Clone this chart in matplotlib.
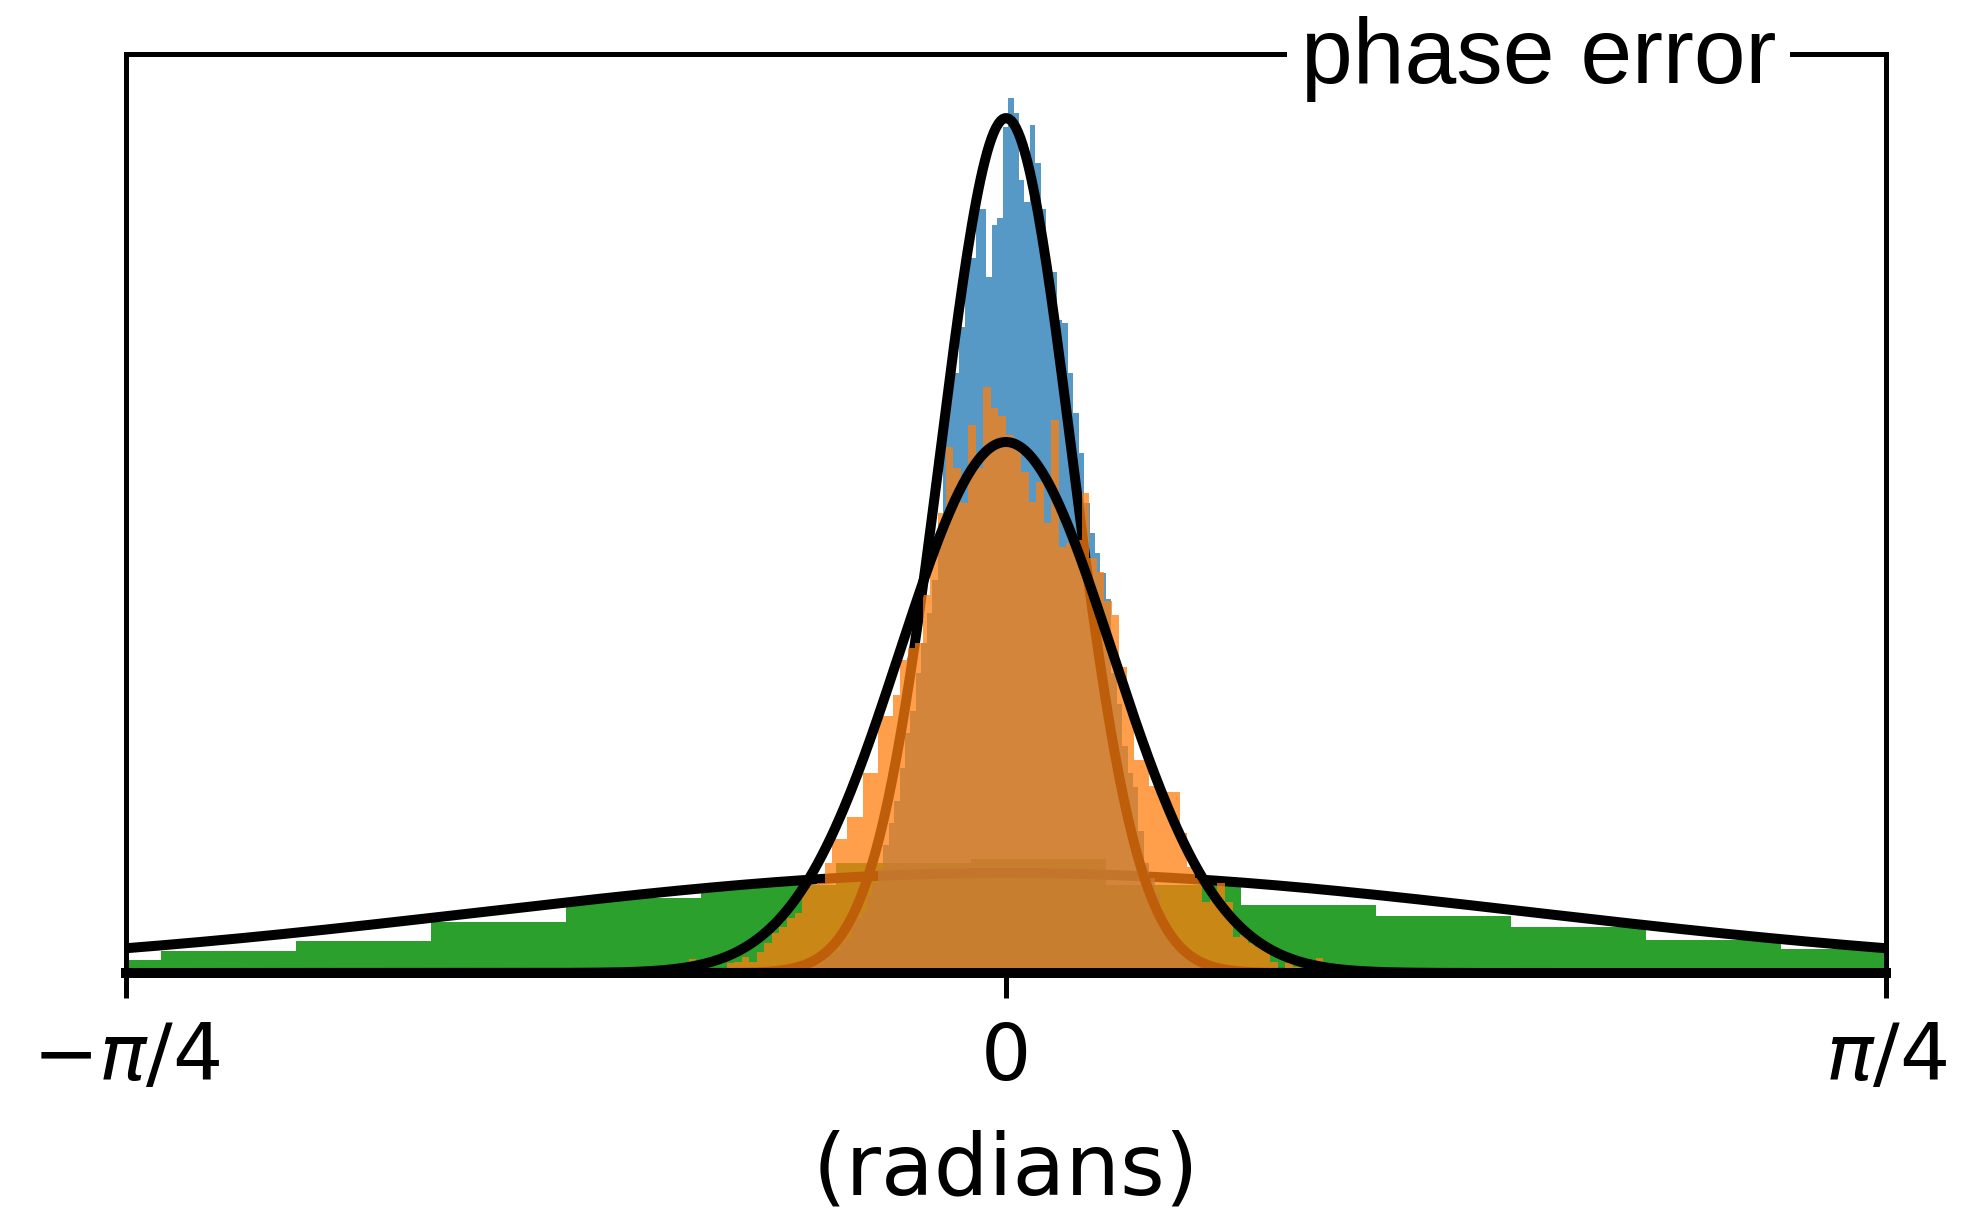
import numpy as np
import matplotlib
matplotlib.use("Agg")
import matplotlib.pyplot as plt

# ---------------- data ----------------
# histogram bin layouts (radians)
green_start, green_width = -0.8747, 0.12049
orange_start, orange_width = -0.29652, 0.006739
blue_start, blue_width = -0.196785, 0.004846

# bar heights (arbitrary units)
green_heights = [13, 22, 32, 51, 75, 88, 110, 114, 88, 68, 57, 46, 33, 24]

orange_heights = [
    0, 1, 14, 2, 2, 3, 5, 10, 11, 16, 11, 21, 30, 40, 46, 55, 60, 85, 88, 90,
    110, 134, 134, 156, 156, 200, 200, 257, 257, 278, 313, 325, 330, 378, 420,
    460, 526, 505, 470, 548, 505, 586, 565, 557,
    538, 526, 501, 471, 491, 450, 553, 426, 430, 433, 480, 415, 401, 372, 358,
    306, 260, 213, 213, 187, 181, 181, 181, 140, 106, 95, 71, 81, 90, 71, 36,
    38, 30, 26, 26, 11, 3, 10, 6, 3, 3, 15, 1,
]

blue_heights = [
    2, 3, 5, 4, 8, 10, 9, 14, 18, 22,
    30, 35, 48, 55, 62, 78, 90, 104, 128, 150,
    172, 205, 240, 262, 300, 330, 360, 393, 450, 540,
    600, 600, 646, 715, 715, 764, 764, 696, 748, 755,
    846, 875, 860, 793, 771, 848, 810, 764, 701, 701,
    653, 650, 600, 560, 520, 470, 440, 420, 400, 374,
    300, 269, 227, 200, 186, 142, 110, 95, 80, 62,
    50, 40, 32, 25, 20, 15, 12, 8, 6, 4, 2,
]

# fitted normal curves: (centre, sigma, peak)
green_fit = (0.0, 0.47, 100)
blue_fit = (0.0, 0.0589, 855)
orange_fit = (0.0, 0.0946, 531)

tick_vals = [-np.pi / 4, 0, np.pi / 4]
tick_labels = [r"$-\pi/4$", "0", r"$\pi/4$"]
title_text = "phase error"
xlabel_text = "(radians)"

# ---------------- figure ----------------
W, H, DPI = 1982, 1224, 200
fig = plt.figure(figsize=(W / DPI, H / DPI), dpi=DPI)
ax = fig.add_axes([126 / W, 251 / H, 1760 / W, 919 / H])

x = np.linspace(-np.pi / 4, np.pi / 4, 800)


def draw_hist(start, width, heights, color, alpha, z):
    edges = start + width * np.arange(len(heights) + 1)
    ax.hist(edges[:-1], bins=edges, weights=heights, color=color,
            alpha=alpha, zorder=z)


def draw_fit(params, z):
    mu, sig, peak = params
    ax.plot(x, peak * np.exp(-(x - mu) ** 2 / (2 * sig ** 2)),
            color="black", lw=3.6, zorder=z)


draw_hist(green_start, green_width, green_heights, "#2ca02c", 1.0, 1)
draw_fit(green_fit, 2)
draw_hist(blue_start, blue_width, blue_heights, "#1f77b4", 0.75, 3)
draw_fit(blue_fit, 4)
draw_hist(orange_start, orange_width, orange_heights, "#ff7f0e", 0.75, 5)
draw_fit(orange_fit, 6)

ax.set_xlim(-np.pi / 4, np.pi / 4)
ax.set_ylim(0, 919)
ax.set_yticks([])
ax.set_xticks(tick_vals)
ax.set_xticklabels(tick_labels)
ax.tick_params(axis="x", length=9, width=1.8, labelsize=28.5, pad=8,
               direction="out")
for side in ["left", "right", "top"]:
    ax.spines[side].set_linewidth(1.8)
ax.spines["bottom"].set_linewidth(3.6)
ax.spines["bottom"].set_zorder(7)

ax.set_xlabel(xlabel_text, fontsize=31, labelpad=12)

ax.text(0.9375, 0.9684, title_text, transform=ax.transAxes, ha="right",
        va="baseline", fontsize=33.5, family=["Liberation Sans", "DejaVu Sans"],
        bbox=dict(facecolor="white", edgecolor="none", pad=5), zorder=10)

fig.savefig("out.png", dpi=DPI)
